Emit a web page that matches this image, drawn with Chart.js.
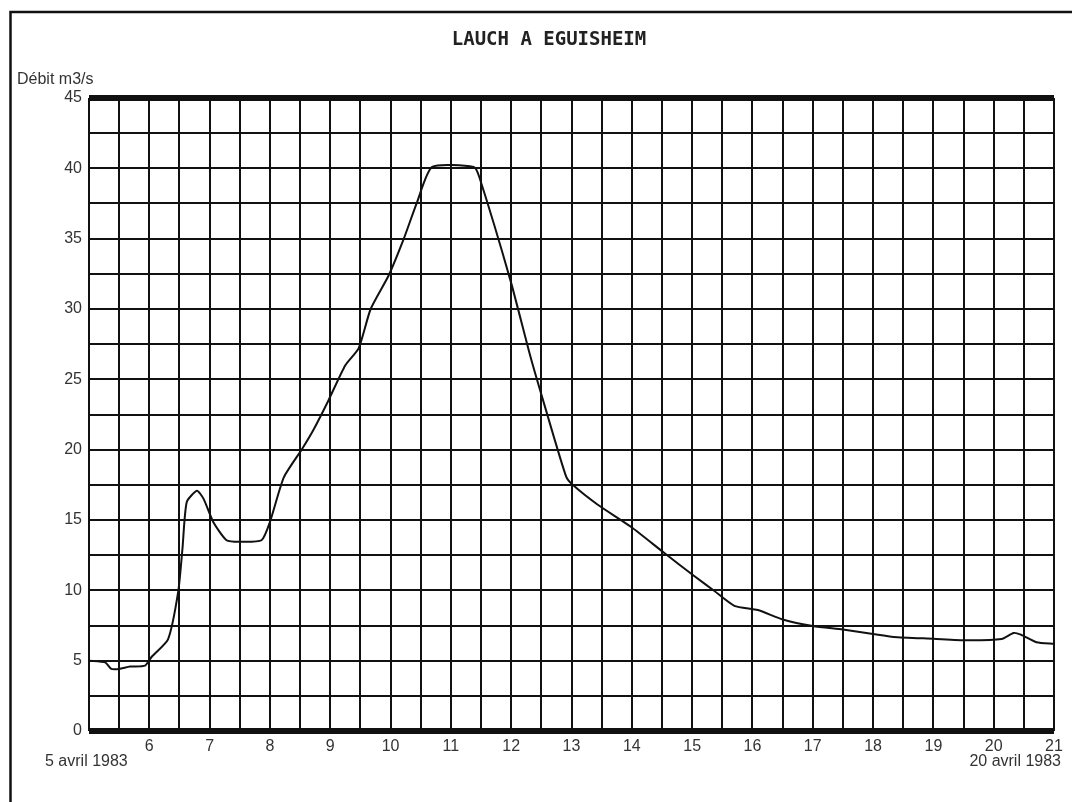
<!DOCTYPE html>
<html>
<head>
<meta charset="utf-8">
<script src="https://cdn.jsdelivr.net/npm/chart.js@4/dist/chart.umd.min.js"></script>
<style>
  html, body { margin: 0; padding: 0; background: #fff; }
  canvas { display: block; }
</style>
</head>
<body>
<canvas id="debit-chart" width="1072" height="802"></canvas>
<script>
// jours d'avril 1983 (abscisse) et débit mesuré en m3/s
const days = [5.0, 5.27, 5.37, 5.5, 5.68, 5.93, 6.04, 6.31, 6.48, 6.55, 6.62, 6.79, 6.9, 7.06, 7.28, 7.5, 7.86, 8.0,
  8.23, 8.53, 8.72, 8.97, 9.25, 9.47, 9.67, 9.97, 10.22, 10.44, 10.69, 11.38, 11.47, 11.99, 12.32, 12.55, 12.91,
  13.02, 13.43, 13.99, 14.54, 15.04, 15.37, 15.7, 16.09, 16.5, 17.0, 17.5, 18.0, 18.34, 19.0, 19.55, 20.13, 20.33,
  20.45, 20.71, 21.0];
const debit = [5.0, 4.88, 4.41, 4.41, 4.58, 4.65, 5.28, 6.52, 9.93, 12.98, 16.27, 17.08, 16.5, 14.86, 13.56, 13.45,
  13.56, 14.86, 18.03, 20.03, 21.4, 23.5, 26.0, 27.2, 30.0, 32.4, 35.0, 37.6, 40.1, 40.1, 39.4, 32.0, 26.6, 23.2,
  18.1, 17.5, 16.1, 14.5, 12.65, 11.0, 9.95, 8.9, 8.6, 7.93, 7.46, 7.21, 6.9, 6.69, 6.56, 6.45, 6.54, 6.97, 6.85,
  6.31, 6.2];

// libellés des axes
const xLabelDays = [6, 7, 8, 9, 10, 11, 12, 13, 14, 15, 16, 17, 18, 19, 20, 21];
const yLabelValues = [0, 5, 10, 15, 20, 25, 30, 35, 40, 45];
const titleText = 'LAUCH A EGUISHEIM';
const yAxisTitle = 'Débit m3/s';
const startDate = '5 avril 1983';
const endDate = '20 avril 1983';

const ink = '#111';
const textColor = '#333';
const sans = '"Liberation Sans", Arial, sans-serif';

// cadre, titre et textes autour du graphique
const paperText = {
  id: 'paperText',
  beforeDraw(chart) {
    const ctx = chart.ctx;
    ctx.save();
    ctx.fillStyle = '#fff';
    ctx.fillRect(0, 0, chart.width, chart.height);
    ctx.strokeStyle = ink;
    ctx.lineWidth = 2.5;
    ctx.beginPath();
    ctx.moveTo(10.5, chart.height);
    ctx.lineTo(10.5, 12);
    ctx.lineTo(chart.width, 12);
    ctx.stroke();
    ctx.restore();
  },
  afterDraw(chart) {
    const ctx = chart.ctx;
    ctx.save();
    ctx.fillStyle = '#222';
    ctx.font = 'bold 19px "DejaVu Sans Mono", monospace';
    ctx.textAlign = 'center';
    ctx.textBaseline = 'middle';
    ctx.fillText(titleText, 549, 40);

    ctx.fillStyle = textColor;
    ctx.font = '16px ' + sans;
    ctx.textAlign = 'left';
    ctx.fillText(yAxisTitle, 17, 80);
    ctx.fillText(startDate, 45, 762);
    ctx.textAlign = 'right';
    ctx.fillText(endDate, 1061, 762);
    ctx.restore();
  }
};

new Chart(document.getElementById('debit-chart').getContext('2d'), {
  type: 'line',
  data: {
    datasets: [{
      data: days.map((d, i) => ({ x: d, y: debit[i] })),
      borderColor: ink,
      borderWidth: 2,
      pointRadius: 0,
      tension: 0.2,
      fill: false
    }]
  },
  options: {
    responsive: false,
    animation: false,
    layout: { padding: { top: 98, right: 18, left: 0, bottom: 31 } },
    plugins: {
      legend: { display: false },
      title: { display: false },
      tooltip: { enabled: false }
    },
    scales: {
      x: {
        type: 'linear',
        min: 5,
        max: 21,
        afterFit(scale) { scale.height = 40; },
        border: { display: false },
        grid: { color: ink, lineWidth: 2, drawTicks: false },
        ticks: {
          stepSize: 0.5,
          autoSkip: false,
          maxRotation: 0,
          padding: 6,
          color: textColor,
          font: { family: sans, size: 16 },
          callback: v => xLabelDays.includes(v) ? String(v) : ''
        }
      },
      y: {
        min: 0,
        max: 45,
        afterFit(scale) { scale.width = 89; },
        border: { display: false },
        grid: {
          color: ink,
          drawTicks: false,
          lineWidth: c => (c.tick && (c.tick.value === 0 || c.tick.value === 45)) ? 6 : 2
        },
        ticks: {
          stepSize: 2.5,
          autoSkip: false,
          padding: 7,
          color: textColor,
          font: { family: sans, size: 16 },
          callback: v => yLabelValues.includes(v) ? String(v) : ''
        }
      }
    }
  },
  plugins: [paperText]
});
</script>
</body>
</html>
